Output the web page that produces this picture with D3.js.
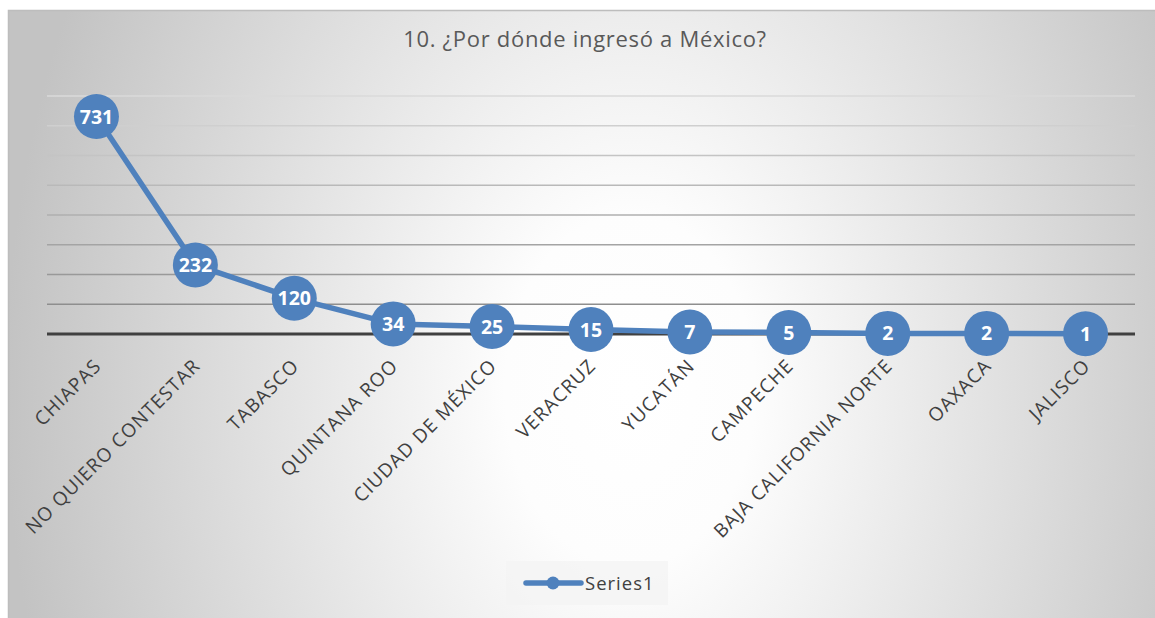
<!DOCTYPE html>
<html>
<head>
<meta charset="utf-8">
<script src="https://cdn.jsdelivr.net/npm/d3@7"></script>
<style>
  html, body { margin: 0; padding: 0; background: #fff; }
  svg { display: block; }
</style>
</head>
<body>
<svg id="chart" width="1155" height="618"></svg>
<script>
const title = "10. ¿Por dónde ingresó a México?";
const categories = ["CHIAPAS", "NO QUIERO CONTESTAR", "TABASCO", "QUINTANA ROO", "CIUDAD DE MÉXICO", "VERACRUZ", "YUCATÁN", "CAMPECHE", "BAJA CALIFORNIA NORTE", "OAXACA", "JALISCO"];
const values = [731, 232, 120, 34, 25, 15, 7, 5, 2, 2, 1];
const seriesName = "Series1";
const yTicks = [100, 200, 300, 400, 500, 600, 700, 800];

const svg = d3.select("#chart");
const W = 1155, H = 618;
const plot = { left: 47, right: 1135, top: 96, bottom: 334 };
const blue = "#4f81bd";
const font = "'Open Sans', sans-serif";

// background gradient
const defs = svg.append("defs");
const rg = defs.append("radialGradient").attr("id", "bg")
  .attr("gradientUnits", "userSpaceOnUse")
  .attr("cx", 0).attr("cy", 0).attr("r", 1)
  .attr("gradientTransform", "translate(630,390) scale(625,880)");
rg.append("stop").attr("offset", "0%").attr("stop-color", "#ffffff");
rg.append("stop").attr("offset", "20%").attr("stop-color", "#fdfdfd");
rg.append("stop").attr("offset", "100%").attr("stop-color", "#c3c3c3");

svg.append("rect").attr("x", 8).attr("y", 10).attr("width", W - 8).attr("height", H - 10)
  .attr("fill", "url(#bg)");
svg.append("path").attr("d", `M8.5,${H} V10.5 H${W}`).attr("fill", "none")
  .attr("stroke", "#bdbdbd").attr("stroke-width", 1.5);

const x = d3.scalePoint().domain(categories).range([plot.left, plot.right]).padding(0.5);
const y = d3.scaleLinear().domain([0, 800]).range([plot.bottom, plot.top]);

// gridlines
const gridColor = d3.scaleLinear().domain([100, 800]).range(["#8e8e8e", "#dadada"]);
const grid = svg.append("g");
yTicks.forEach(t => {
  grid.append("line")
    .attr("x1", plot.left).attr("x2", plot.right)
    .attr("y1", y(t)).attr("y2", y(t))
    .attr("stroke", gridColor(t)).attr("stroke-width", 1.5);
});

// x axis (ticks hidden; baseline drawn below)
const xAxis = svg.append("g").attr("transform", `translate(0,${y(0)})`)
  .call(d3.axisBottom(x).tickSize(0).tickPadding(0).tickFormat(""));
xAxis.select(".domain").remove();
svg.append("line").attr("x1", plot.left).attr("x2", plot.right)
  .attr("y1", y(0)).attr("y2", y(0)).attr("stroke", "#404040").attr("stroke-width", 3);

// x labels
svg.append("g").selectAll("text").data(categories).join("text")
  .attr("transform", d => `translate(${x(d) + 6},${y(0) + 33}) rotate(-45)`)
  .attr("text-anchor", "end")
  .attr("font-family", font)
  .attr("font-size", 19)
  .attr("letter-spacing", 1.1)
  .attr("fill", "#404040")
  .text(d => d);

// line
const line = d3.line().x((d, i) => x(categories[i])).y(d => y(d));
svg.append("path").datum(values).attr("d", line)
  .attr("fill", "none").attr("stroke", blue).attr("stroke-width", 5.5)
  .attr("stroke-linejoin", "round");

// markers
const pts = svg.append("g").selectAll("g").data(values).join("g")
  .attr("transform", (d, i) => `translate(${x(categories[i])},${y(d)})`);
pts.append("circle").attr("r", 22.5).attr("fill", blue);
pts.append("text").attr("text-anchor", "middle").attr("dy", "0.36em")
  .attr("font-family", font).attr("font-weight", "bold")
  .attr("font-size", 19.5).attr("fill", "#ffffff")
  .text(d => d);

// title
svg.append("text").attr("x", 585).attr("y", 47).attr("text-anchor", "middle")
  .attr("font-family", font).attr("font-size", 22).attr("letter-spacing", 0.7)
  .attr("fill", "#595959").text(title);

// legend
const lg = svg.append("g");
lg.append("rect").attr("x", 506).attr("y", 561).attr("width", 162).attr("height", 44)
  .attr("fill", "#f4f4f4").attr("fill-opacity", 0.8);
lg.append("line").attr("x1", 526).attr("x2", 581).attr("y1", 583).attr("y2", 583)
  .attr("stroke", blue).attr("stroke-width", 5.5).attr("stroke-linecap", "round");
lg.append("circle").attr("cx", 553).attr("cy", 583).attr("r", 6.5).attr("fill", blue);
lg.append("text").attr("x", 585).attr("y", 590)
  .attr("font-family", font).attr("font-size", 18.5).attr("letter-spacing", 1)
  .attr("fill", "#404040").text(seriesName);
</script>
</body>
</html>
